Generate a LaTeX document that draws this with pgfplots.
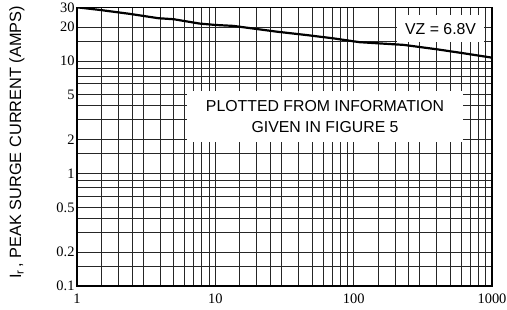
\documentclass[border=0pt]{standalone}
\usepackage{fontspec}
\setmainfont{Liberation Sans}
\newfontfamily\tickfont{Liberation Serif}
\usepackage{pgfplots}
\pgfplotsset{compat=1.18}
\begin{document}
\begin{tikzpicture}
\begin{loglogaxis}[
 scale only axis, width=415bp, height=278.7bp,
 xmin=1, xmax=1000, ymin=0.1, ymax=30,
 xtick={1,10,100,1000}, xticklabels={1,10,100,1000},
 ytick={0.1,0.2,0.5,1,2,5,10,20,30}, yticklabels={0.1,0.2,0.5,1,2,5,10,20,30},
 minor xtick={1.5,2,2.5,3,4,5,6,7,8,9,15,20,25,30,40,50,60,70,80,90,150,200,250,300,400,500,600,700,800,900},
 minor ytick={0.15,0.3,0.4,0.63,0.75,0.87,1.5,3,4,6.3,7.3,8.5,15},
 grid=both,
 major grid style={black!85, line width=0.95bp},
 minor grid style={black!85, line width=0.95bp},
 major tick length=0pt, minor tick length=0pt,
 axis line style={line width=1.3bp},
 tick label style={font=\tickfont\fontsize{14.5}{15}\selectfont},
 xticklabel style={yshift=-4bp},
 yticklabel style={xshift=1bp},
 ylabel={I\textsubscript{r}\,, PEAK SURGE CURRENT (AMPS)},
 ylabel style={at={(axis description cs:-0.145,0.515)}, anchor=center, font=\fontsize{16.4}{19}\selectfont},
]
\addplot[black, line width=2.2bp] coordinates {
(1,30) (1.47,28.4) (2.42,26.2) (3.87,24.0) (5,23.5) (7.7,21.5) (10,20.9) (13.5,20.5)
(28,18.2) (45.7,17.0) (71,15.9) (110,14.7) (230,13.9) (400,12.7) (626,11.7) (1000,10.7)
};
\node[fill=white, inner sep=0pt, minimum width=87bp, minimum height=27bp,
  font=\fontsize{15.9}{18}\selectfont] at (axis cs:425,19.4) {VZ = 6.8V};
\node[fill=white, inner sep=0pt, minimum width=276bp, minimum height=51bp, align=center,
  font=\fontsize{15.9}{21}\selectfont] at (axis cs:62.1,3.21) {PLOTTED FROM INFORMATION\\GIVEN IN FIGURE 5};
\end{loglogaxis}
\pgfresetboundingbox
\path[use as bounding box] ([xshift=-77bp,yshift=-24bp]current axis.south west) rectangle ([xshift=15bp,yshift=7.3bp]current axis.north east);
\end{tikzpicture}
\end{document}
